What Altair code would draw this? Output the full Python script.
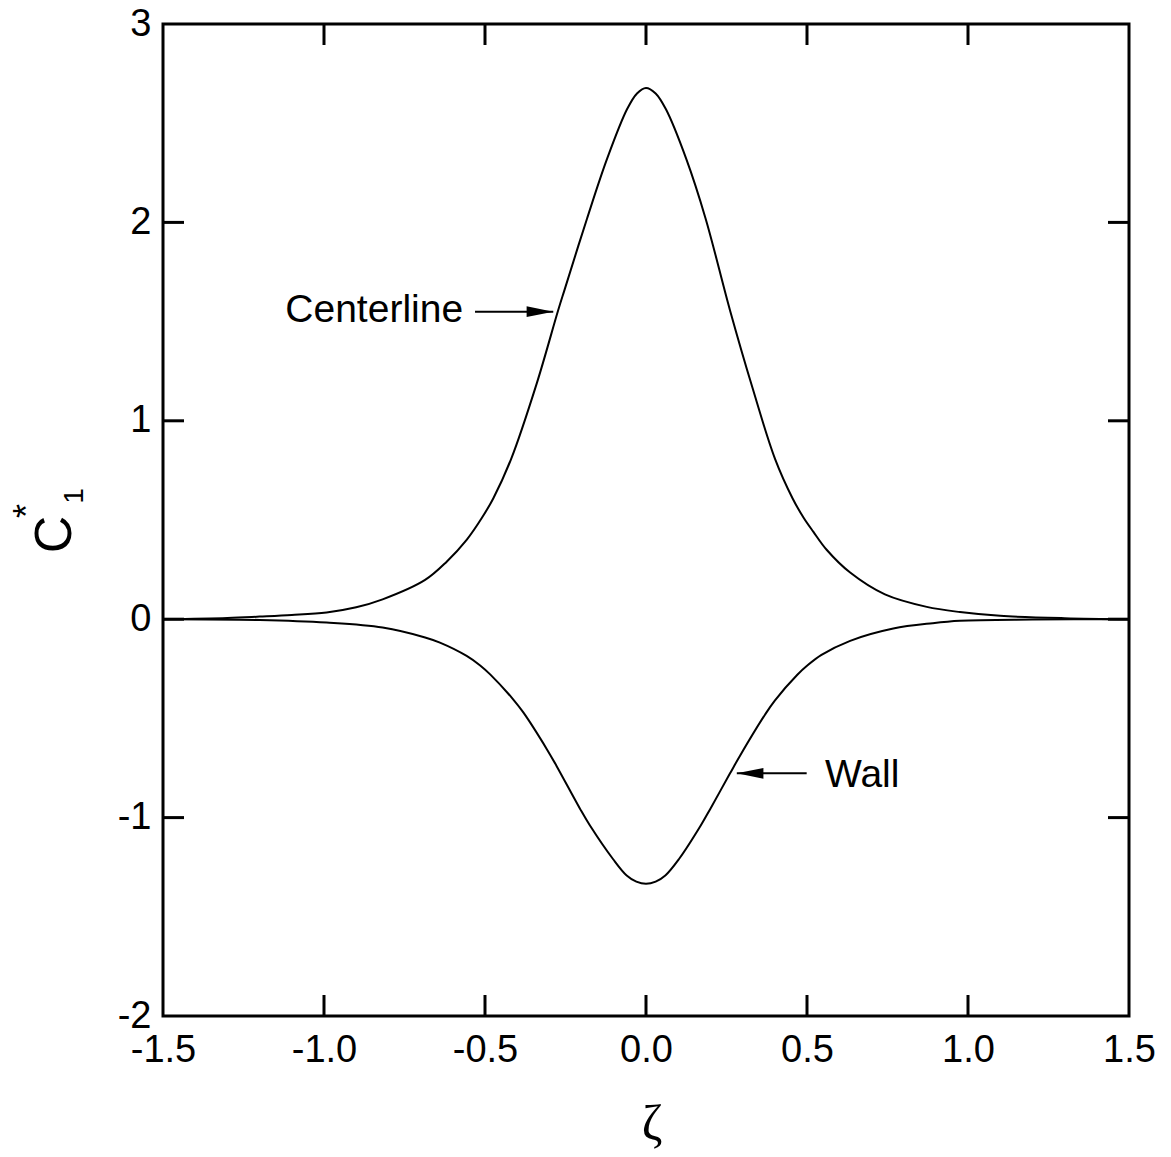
import altair as alt
import pandas as pd

# Normalised first-order concentration profiles C1*(zeta)
center_zeta = [-1.5, -1.3, -1.2, -1.1, -0.992, -0.9, -0.818, -0.686, -0.619, -0.557,
               -0.51, -0.474, -0.419, -0.339, -0.273, -0.252, -0.183, -0.121, -0.059,
               -0.028, 0.0, 0.03, 0.062, 0.125, 0.185, 0.261, 0.33, 0.401, 0.455,
               0.49, 0.52, 0.561, 0.634, 0.742, 0.872, 0.975, 1.1, 1.3, 1.5]
center_c1 = [0.0, 0.006, 0.013, 0.021, 0.034, 0.06, 0.10, 0.198, 0.29, 0.40,
             0.51, 0.61, 0.807, 1.19, 1.556, 1.665, 2.02, 2.32, 2.57,
             2.65, 2.678, 2.65, 2.57, 2.32, 2.02, 1.556, 1.17, 0.807, 0.61,
             0.51, 0.44, 0.35, 0.235, 0.125, 0.062, 0.036, 0.017, 0.005, 0.0]

wall_zeta = [-1.5, -1.2, -0.992, -0.818, -0.686, -0.64, -0.557, -0.516, -0.484,
             -0.412, -0.381, -0.308, -0.277, -0.205, -0.174, -0.102, -0.06, -0.03, 0.0,
             0.03, 0.06, 0.102, 0.17, 0.2, 0.261, 0.292, 0.37, 0.40, 0.47, 0.50,
             0.545, 0.634, 0.768, 0.89, 0.975, 1.2, 1.5]
wall_c1 = [0.0, -0.004, -0.017, -0.042, -0.092, -0.118, -0.185, -0.232, -0.278,
           -0.405, -0.47, -0.655, -0.742, -0.955, -1.04, -1.21, -1.292, -1.323, -1.334,
           -1.323, -1.292, -1.21, -1.04, -0.955, -0.777, -0.688, -0.48, -0.41, -0.28, -0.235,
           -0.18, -0.109, -0.047, -0.02, -0.008, -0.002, 0.0]

x_ticks = [-1.5, -1.0, -0.5, 0.0, 0.5, 1.0, 1.5]
y_ticks = [-2, -1, 0, 1, 2, 3]

# Annotation labels and arrows (data coordinates)
label_text = ["Centerline", "Wall"]
label_zeta = [-0.568, 0.556]
label_c1 = [1.50, -0.844]
arrow_from = [-0.531, 0.499]
arrow_tip = [-0.288, 0.282]
arrow_c1 = [1.550, -0.777]
arrow_head = ["M0,0L-2,-0.4L-2,0.4Z", "M0,0L2,-0.4L2,0.4Z"]

W, H = 966, 992
TICK = 21
FONT = "Liberation Sans, Arial, Helvetica, sans-serif"
SERIF = "Liberation Serif, Times New Roman, serif"

xs = alt.Scale(domain=[-1.5, 1.5], nice=False, zero=False)
ys = alt.Scale(domain=[-2, 3], nice=False, zero=False)

axis_common = dict(title=None, ticks=False, tickSize=0, domain=False, grid=False,
                   labelFontSize=38, labelFont=FONT, labelColor="black",
                   labelFlush=False, labelOverlap=False)
# plain hyphen-minus for negative tick labels
x_axis = alt.Axis(values=x_ticks, labelPadding=15,
                  labelExpr="datum.value < 0 ? '-' + format(-datum.value, '.1f') : format(datum.value, '.1f')",
                  **axis_common)
y_axis = alt.Axis(values=y_ticks, labelPadding=12,
                  labelExpr="datum.value < 0 ? '-' + format(-datum.value, 'd') : format(datum.value, 'd')",
                  **axis_common)


def xq(field):
    return alt.X(f"{field}:Q", scale=xs, axis=x_axis)


def yq(field):
    return alt.Y(f"{field}:Q", scale=ys, axis=y_axis)


profiles = pd.concat([
    pd.DataFrame({"zeta": center_zeta, "c1": center_c1, "series": "Centerline"}),
    pd.DataFrame({"zeta": wall_zeta, "c1": wall_c1, "series": "Wall"}),
])

curves = alt.Chart(profiles).mark_line(
    color="black", strokeWidth=2, interpolate="catmull-rom"
).encode(x=xq("zeta"), y=yq("c1"), detail="series:N")

# Inward ticks on all four sides
xt = pd.DataFrame({"t": x_ticks[1:-1]})
yt = pd.DataFrame({"t": y_ticks[1:-1]})
tick_mark = dict(color="black", strokeWidth=3)
bottom_ticks = alt.Chart(xt).mark_rule(**tick_mark).encode(
    x=xq("t"), y=alt.value(H), y2=alt.value(H - TICK))
top_ticks = alt.Chart(xt).mark_rule(**tick_mark).encode(
    x=xq("t"), y=alt.value(0), y2=alt.value(TICK))
left_ticks = alt.Chart(yt).mark_rule(**tick_mark).encode(
    y=yq("t"), x=alt.value(0), x2=alt.value(TICK))
right_ticks = alt.Chart(yt).mark_rule(**tick_mark).encode(
    y=yq("t"), x=alt.value(W), x2=alt.value(W - TICK))

labels = pd.DataFrame({"text": label_text, "zeta": label_zeta, "c1": label_c1})
center_label = alt.Chart(labels.iloc[[0]]).mark_text(
    align="right", baseline="alphabetic", font=FONT, fontSize=39, color="black"
).encode(x=xq("zeta"), y=yq("c1"), text="text:N")
wall_label = alt.Chart(labels.iloc[[1]]).mark_text(
    align="left", baseline="alphabetic", font=FONT, fontSize=39, color="black"
).encode(x=xq("zeta"), y=yq("c1"), text="text:N")

arrows = pd.DataFrame({"z0": arrow_from, "z1": arrow_tip, "c1": arrow_c1, "head": arrow_head})
shafts = alt.Chart(arrows).mark_rule(color="black", strokeWidth=2).encode(
    x=xq("z0"), x2="z1:Q", y=yq("c1"))
heads = alt.Chart(arrows).mark_point(
    filled=True, color="black", opacity=1, size=708, strokeWidth=0
).encode(x=xq("z1"), y=yq("c1"), shape=alt.Shape("head:N", scale=None))


# Axis titles: C*_1 (rotated, bottom-to-top) and zeta
def ytitle_part(text, px, py, size):
    return alt.Chart(pd.DataFrame({"t": [text]})).mark_text(
        angle=270, align="center", baseline="alphabetic", font=FONT,
        fontSize=size, color="black"
    ).encode(text="t:N", x=alt.value(px), y=alt.value(py))


ytitle_c = ytitle_part("C", -92, 510.5, 52)
ytitle_star = ytitle_part("*", -124, 487, 36)
ytitle_sub = ytitle_part("1", -80, 472, 28)

xtitle = alt.Chart(pd.DataFrame({"t": ["ζ"]})).mark_text(
    align="center", baseline="alphabetic", font=SERIF, fontSize=50, color="black"
).encode(text="t:N", x=alt.value(489), y=alt.value(1116))

chart = alt.layer(
    curves, bottom_ticks, top_ticks, left_ticks, right_ticks,
    shafts, heads, center_label, wall_label,
    ytitle_c, ytitle_star, ytitle_sub, xtitle,
).properties(
    width=W, height=H,
    padding={"left": 163, "top": 24, "right": 42, "bottom": 141},
    autosize=alt.AutoSizeParams(type="none"),
    background="white",
).configure_view(stroke="black", strokeWidth=3)

chart.save("out.html", embed_options={"renderer": "svg", "actions": False})
